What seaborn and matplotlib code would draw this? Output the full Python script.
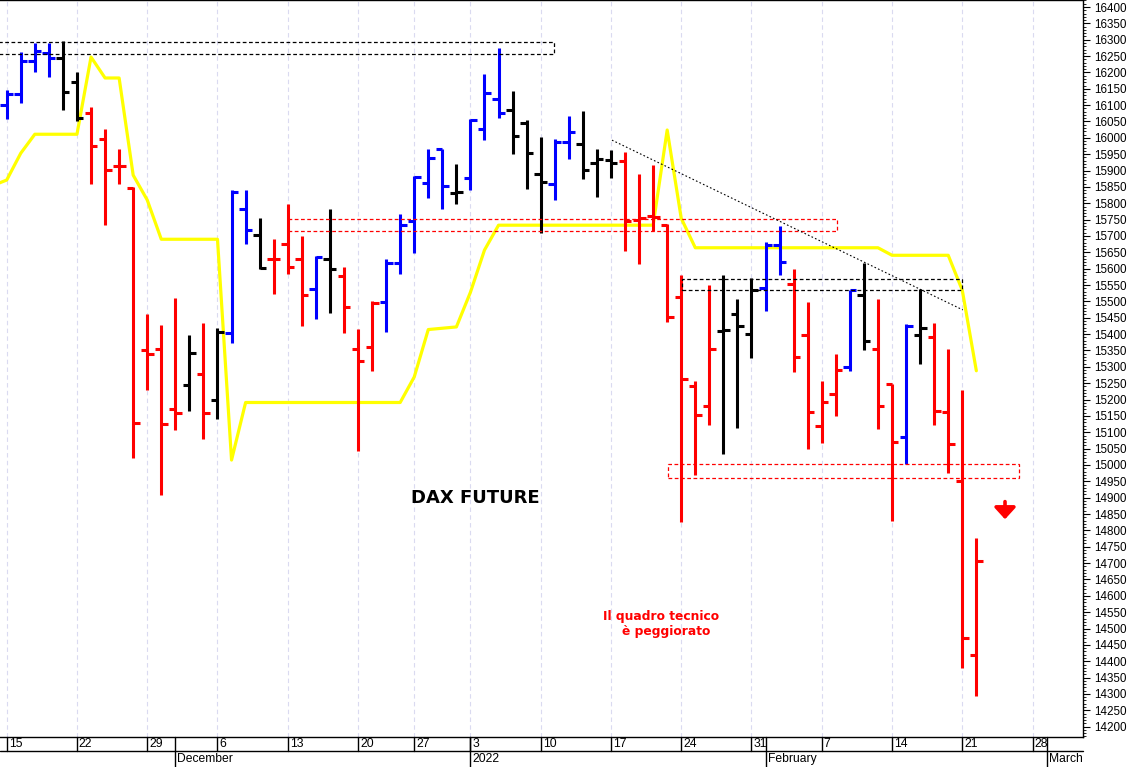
import numpy as np
import pandas as pd
import matplotlib
matplotlib.use("Agg")
import matplotlib.pyplot as plt
import seaborn as sns
from matplotlib.patches import Rectangle
from matplotlib.lines import Line2D
from matplotlib.transforms import blended_transform_factory

# ---------------- data ----------------
holidays = ["2021-12-24", "2021-12-31"]
calendar = [d for d in pd.bdate_range("2021-11-12", "2022-03-04")
            if d.strftime("%Y-%m-%d") not in holidays]
# position 0 = 2021-11-15 (first bar); 2021-11-12 sits at -1 (off the left edge)
positions = np.arange(len(calendar)) - 1

opens = [16100, 16133, 16235, 16260, 16243, 16171, 16075, 15998, 15914, 15848,
         15351, 15353, 15171, 15244, 15277, 15200, 15402, 15784, 15703, 15629,
         15674, 15629, 15537, 15631, 15578, 15356, 15361, 15499, 15616, 15746,
         15862, 15965, 15832, 15876, 16027, 16120, 16085, 16046, 15891, 15858,
         15988, 15981, 15922, 15933, 15930, 15749, 15762, 15735, 15514, 15242,
         15180, 15409, 15461, 15400, 15540, 15672, 15553, 15397, 15120, 15216,
         15298, 15519, 15354, 15247, 15084, 15397, 15390, 15162, 14951, 14419]
highs = [16146, 16263, 16289, 16289, 16297, 16202, 16093, 16026, 15965, 15850,
         15463, 15428, 15509, 15397, 15435, 15419, 15842, 15842, 15755, 15692,
         15799, 15700, 15638, 15784, 15606, 15417, 15502, 15631, 15766, 15884,
         15965, 15965, 15919, 16059, 16194, 16275, 16144, 16054, 16003, 15998,
         16066, 16082, 15965, 15962, 15957, 15891, 15916, 15738, 15582, 15256,
         15550, 15580, 15506, 15573, 15682, 15730, 15599, 15499, 15257, 15338,
         15534, 15616, 15506, 15247, 15430, 15537, 15433, 15353, 15229, 14777]
lows = [16059, 16108, 16202, 16185, 16085, 16052, 15858, 15733, 15858, 15021,
        15229, 14908, 15107, 15165, 15079, 15142, 15372, 15674, 15598, 15524,
        15583, 15424, 15445, 15466, 15404, 15042, 15287, 15405, 15585, 15648,
        15817, 15784, 15797, 15840, 15993, 16061, 15952, 15845, 15710, 15810,
        15934, 15873, 15818, 15876, 15654, 15613, 15716, 15438, 14826, 14969,
        15122, 15035, 15112, 15326, 15471, 15580, 15283, 15048, 15068, 15149,
        15287, 15351, 15109, 14828, 15003, 15310, 15122, 14976, 14378, 14294]
closes = [16133, 16235, 16266, 16243, 16141, 16062, 15975, 15903, 15914, 15127,
          15339, 15124, 15158, 15341, 15158, 15407, 15833, 15718, 15601, 15631,
          15604, 15521, 15636, 15599, 15482, 15317, 15494, 15616, 15733, 15881,
          15937, 15852, 15833, 16054, 16136, 16075, 16005, 15955, 15866, 15988,
          16018, 15903, 15935, 15922, 15746, 15755, 15758, 15453, 15264, 15152,
          15353, 15412, 15424, 15534, 15672, 15619, 15329, 15161, 15191, 15290,
          15534, 15379, 15181, 15071, 15424, 15420, 15165, 15064, 14470, 14706]
signal = list("bbbbkkrrrrrrrkrkbbkrrrbkrrrbbbbbkbbbkkkbbkkkrrrrrrrkkkbbrrrrbkrrbkrrrr")

# yellow indicator, from 2021-11-12 to 2022-02-22
yellow_line = [15854, 15871, 15953, 16011, 16011, 16011, 16011, 16247, 16183, 16183,
               15886, 15810, 15690, 15690, 15690, 15690, 15690, 15015, 15191, 15191,
               15191, 15191, 15191, 15191, 15191, 15191, 15191, 15191, 15191, 15191,
               15269, 15414, 15418, 15422, 15528, 15657, 15733, 15733, 15733, 15733,
               15733, 15733, 15733, 15733, 15733, 15733, 15733, 15733, 16024, 15754,
               15664, 15664, 15664, 15664, 15664, 15664, 15664, 15664, 15664, 15664,
               15664, 15664, 15664, 15664, 15641, 15641, 15641, 15641, 15641, 15534,
               15288]

# support / resistance boxes: (start pos, end pos, low, high, colour)
boxes = [(-2.0, 38.97, 16256, 16294, "black"),
         (20.04, 59.06, 15715, 15751, "red"),
         (48.03, 68.0, 15534, 15570, "black"),
         (47.08, 72.06, 14959, 15002, "red")]
trend_x = [43.07, 68.04]
trend_y = [15993, 15474]

month_labels = {"2021-12-01": "December", "2022-01-03": "2022",
                "2022-02-01": "February", "2022-03-01": "March"}

# ---------------- figure ----------------
sns.set_theme(style="white")
plt.rcParams["font.family"] = ["Liberation Sans", "DejaVu Sans"]

W, H = 1131, 767
fig = plt.figure(figsize=(W / 100, H / 100), dpi=100)
fig.patch.set_facecolor("white")
ax_bottom_px = 29.7
ax_w_px = 1083
ax = fig.add_axes([0, ax_bottom_px / H, ax_w_px / W, (H - ax_bottom_px) / H])
ax.set_facecolor("white")

ax.set_xlim(-0.477, 76.59)
ax.set_ylim(14167.5, 16421.4)

n = len(opens)
bar_x = positions[1:1 + n]
colour_map = {"b": "#0000ff", "r": "#ff0000", "k": "#000000"}
bar_cols = [colour_map[s] for s in signal]

# weekly grid
cal_dates = [d.strftime("%Y-%m-%d") for d in calendar]
week_pos, week_lab = [], []
prev = None
for p, d in zip(positions, calendar):
    wk = d.isocalendar()[1]
    if p >= 0 and wk != prev:
        week_pos.append(p)
        week_lab.append(str(d.day))
    prev = wk
for p in week_pos:
    ax.axvline(p, color="#dadaf0", lw=0.8, ls=(0, (4, 3)), zorder=0)

# yellow indicator
ypos = positions[:len(yellow_line)]
sns.lineplot(x=ypos, y=yellow_line, ax=ax, color="#ffff00", lw=2.3,
             estimator=None, sort=False, legend=False, zorder=2)

# OHLC bars
lw = 2.2
tick = 0.46
ax.vlines(bar_x, lows, highs, colors=bar_cols, lw=lw, capstyle="butt", zorder=3)
ax.hlines(opens, bar_x - tick, bar_x, colors=bar_cols, lw=lw, capstyle="butt", zorder=3)
ax.hlines(closes, bar_x, bar_x + tick, colors=bar_cols, lw=lw, capstyle="butt", zorder=3)

# boxes and trend line
for x0, x1, lo, hi, c in boxes:
    ax.add_patch(Rectangle((x0, lo), x1 - x0, hi - lo, fill=False, ec=c,
                           lw=0.9, ls=(0, (3, 2)), zorder=4))
ax.plot(trend_x, trend_y, color="black", lw=0.8, ls=(0, (1.5, 2)), zorder=4)

# arrow and texts
ax.annotate("", xy=(71.04, 14834), xytext=(71.04, 14888),
            arrowprops=dict(arrowstyle="-|>,head_width=0.32,head_length=0.35",
                            color="#ff0000", lw=2.6, mutation_scale=20,
                            shrinkA=0, shrinkB=0), zorder=5)
ax.text(33.36, 14883, "DAX FUTURE", ha="center", va="baseline",
        fontsize=13, fontweight="bold", family="DejaVu Sans", color="black")
ax.text(46.6, 14526, "Il quadro tecnico", ha="center", va="baseline",
        fontsize=8.8, fontweight="bold", family="DejaVu Sans", color="#ff0000")
ax.text(46.94, 14480, "è peggiorato", ha="center", va="baseline",
        fontsize=8.8, fontweight="bold", family="DejaVu Sans", color="#ff0000")

# axes styling
ax.set_xlabel("")
ax.set_ylabel("")
ax.set_xticks([])
ax.yaxis.tick_right()
ax.set_yticks(np.arange(14200, 16401, 50))
ax.set_yticks(np.arange(14170, 16421, 10), minor=True)
ax.tick_params(axis="y", which="major", length=4.8, width=0.8, pad=3.0,
               labelsize=8.4, colors="black", right=True, left=False)
ax.tick_params(axis="y", which="minor", length=2.4, width=0.6,
               colors="black", right=True, left=False)
for s in ["top", "right", "bottom"]:
    ax.spines[s].set_visible(True)
    ax.spines[s].set_color("black")
    ax.spines[s].set_linewidth(1.0)
ax.spines["left"].set_visible(False)

# date band under the axes
trans = blended_transform_factory(ax.transData, fig.transFigure)
y_top = ax_bottom_px / H
y_mid = 16 / H
fig.add_artist(Line2D([0, ax_w_px / W], [y_mid, y_mid], transform=fig.transFigure,
                      color="black", lw=1.0))
for p, lab in zip(week_pos, week_lab):
    ax.add_line(Line2D([p, p], [y_mid, y_top], transform=trans, color="black",
                       lw=1.0, clip_on=False))
    ax.text(p + 0.14, (y_mid + y_top) / 2, lab, transform=trans, ha="left",
            va="center", fontsize=8.7, color="black", clip_on=False)
for p, d in zip(positions, cal_dates):
    if d in month_labels:
        ax.add_line(Line2D([p, p], [0, y_top], transform=trans, color="black",
                           lw=1.0, clip_on=False))
        ax.text(p + 0.14, y_mid / 2, month_labels[d], transform=trans, ha="left",
                va="center", fontsize=8.7, color="black", clip_on=False)

fig.savefig("out.png", dpi=100, facecolor="white")
